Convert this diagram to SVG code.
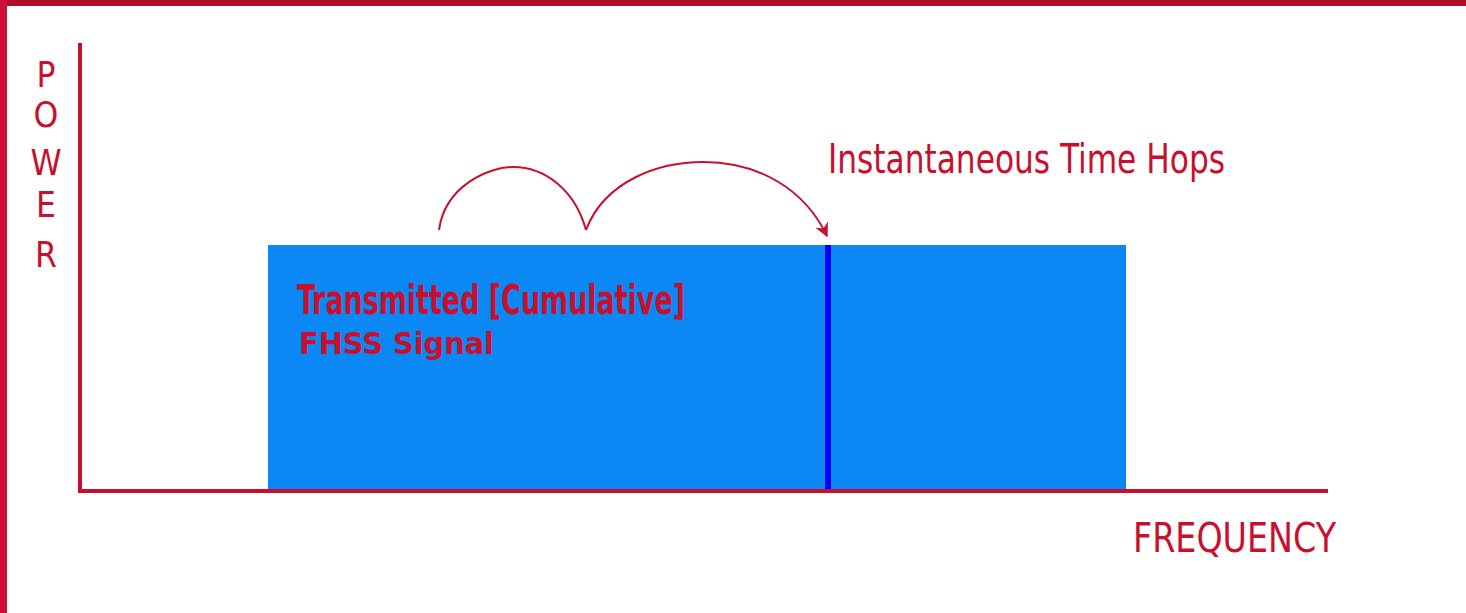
<svg xmlns="http://www.w3.org/2000/svg" width="1466" height="613" viewBox="0 0 1466 613">
<style>
.lbl{font-family:"DejaVu Sans Condensed","DejaVu Sans",sans-serif;fill:#c8102e;}
.ax{stroke:#c8102e;stroke-width:4;fill:none;}
.hop{stroke:#c8102e;stroke-width:2;fill:none;}
</style>
<defs>
<marker id="ah" viewBox="0 0 10 10" refX="9" refY="5" markerWidth="7" markerHeight="7" orient="auto" markerUnits="strokeWidth">
<path d="M0,0 L10,5 L0,10 L3,5 Z" fill="#c8102e"/>
</marker>
</defs>
<rect width="1466" height="613" fill="#ffffff"/>
<rect x="0" y="0" width="1466" height="6" fill="#b00c2a"/>
<rect x="0" y="0" width="7" height="613" fill="#cc0f32"/>
<g id="signal">
<rect x="268" y="245" width="858" height="245" fill="#0c88f4"/>
<rect x="825" y="245" width="6" height="245" fill="#0000ff"/>
<text class="lbl" x="297" y="314" font-size="41" font-weight="bold" textLength="388" lengthAdjust="spacingAndGlyphs">Transmitted [Cumulative]</text>
<text class="lbl" x="299" y="354" font-size="31" font-weight="bold" textLength="195" lengthAdjust="spacingAndGlyphs">FHSS Signal</text>
</g>
<g id="axes">
<line class="ax" x1="80" y1="43" x2="80" y2="493"/>
<line class="ax" x1="78" y1="491" x2="1328" y2="491"/>
</g>
<g id="power-label">
<text class="lbl" x="46" y="87" font-size="35" text-anchor="middle">P</text>
<text class="lbl" x="46" y="127" font-size="35" text-anchor="middle">O</text>
<text class="lbl" x="46" y="175" font-size="35" text-anchor="middle">W</text>
<text class="lbl" x="46" y="217" font-size="35" text-anchor="middle">E</text>
<text class="lbl" x="46" y="267" font-size="35" text-anchor="middle">R</text>
</g>
<g id="frequency-label">
<text class="lbl" x="1133" y="552" font-size="40" textLength="203" lengthAdjust="spacingAndGlyphs">FREQUENCY</text>
</g>
<g id="hops-label">
<text class="lbl" x="828" y="173" font-size="40" textLength="397" lengthAdjust="spacingAndGlyphs">Instantaneous Time Hops</text>
</g>
<g id="connectors">
<path class="hop" d="M439,230 C445,185 490,167 513,167 C545,167 575,190 586,230"/>
<path class="hop" d="M586,230 C605,180 660,162 703,162 C760,162 805,190 827,236" marker-end="url(#ah)"/>
</g>
</svg>
